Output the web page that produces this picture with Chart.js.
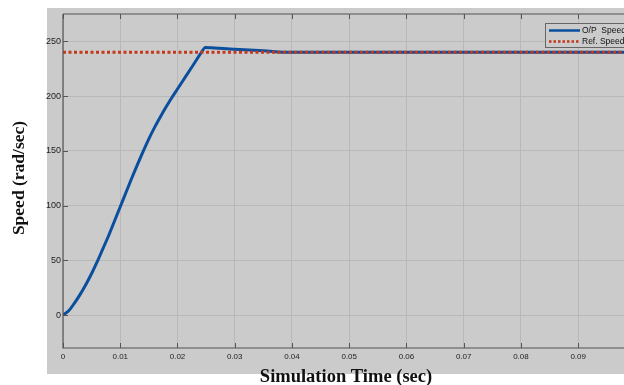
<!DOCTYPE html>
<html lang="en">
<head>
  <meta charset="UTF-8" />
  <title>Speed response</title>
  <script src="https://cdn.jsdelivr.net/npm/chart.js"></script>
  <style>
    html, body { margin: 0; padding: 0; background: #fff; overflow: hidden; }
    #wrap { width: 624px; height: 385px; position: relative; }
    canvas { display: block; }
  </style>
</head>
<body>
  <div id="wrap"><canvas id="speedChart" width="624" height="385"></canvas></div>

  <script>
    // data
    const timeSec = [0, 0.001, 0.002, 0.003, 0.004, 0.005, 0.006, 0.007, 0.008, 0.009,
                     0.010, 0.011, 0.012, 0.013, 0.014, 0.015, 0.016, 0.017, 0.018, 0.019,
                     0.020, 0.021, 0.022, 0.023, 0.024, 0.0249, 0.026, 0.028, 0.030, 0.035, 0.0397, 0.098];
    const speedOut = [0, 4, 11, 19, 28, 38, 49, 61, 73, 86,
                      99, 112, 125, 137.5, 149.5, 161, 171.5, 181, 190, 198.5,
                      206.5, 214.5, 222.5, 230.5, 238.5, 244.5, 244.1, 243.4, 242.8, 241.4, 240, 240];
    const refTime = [0, 0.098];
    const refSpeed = [240, 240];
    const xTicks = [0, 0.01, 0.02, 0.03, 0.04, 0.05, 0.06, 0.07, 0.08, 0.09];
    const yTicks = [0, 50, 100, 150, 200, 250];
    const seriesNames = ['O/P  Speed', 'Ref. Speed'];

    const BG = '#cbcbcb';
    const BLUE = '#0a4f9e';
    const RED = '#c4381c';

    // panel, inward ticks, axis titles, legend box
    const decor = {
      id: 'decor',
      beforeDraw(chart) {
        const c = chart.ctx;
        c.save();
        c.fillStyle = '#fff';
        c.fillRect(0, 0, chart.width, chart.height);
        c.fillStyle = BG;
        c.fillRect(47, 8, 577, 366);
        c.restore();
      },
      afterDraw(chart) {
        const c = chart.ctx, a = chart.chartArea;
        const xs = chart.scales.x, ys = chart.scales.y;
        c.save();
        c.strokeStyle = '#555';
        c.lineWidth = 1.2;
        c.beginPath();
        c.moveTo(a.left, a.top); c.lineTo(a.right, a.top);
        c.moveTo(a.left, a.top); c.lineTo(a.left, a.bottom);
        c.lineTo(a.right, a.bottom);
        c.stroke();
        c.lineWidth = 1;
        c.beginPath();
        xTicks.forEach(v => {
          const px = Math.round(xs.getPixelForValue(v)) + 0.5;
          c.moveTo(px, a.bottom); c.lineTo(px, a.bottom - 5);
          c.moveTo(px, a.top); c.lineTo(px, a.top + 5);
        });
        yTicks.forEach(v => {
          const py = Math.round(ys.getPixelForValue(v)) + 0.5;
          c.moveTo(a.left, py); c.lineTo(a.left + 5, py);
        });
        c.stroke();

        // axis titles
        c.fillStyle = '#111';
        c.font = 'bold 18.5px "Liberation Serif"';
        c.textAlign = 'center';
        c.textBaseline = 'middle';
        c.fillText('Simulation Time (sec)', 346, 377);
        c.translate(19, 178);
        c.rotate(-Math.PI / 2);
        c.font = 'bold 17.5px "Liberation Serif"';
        c.fillText('Speed (rad/sec)', 0, 0);
        c.restore();

        // legend
        c.save();
        c.fillStyle = BG;
        c.fillRect(545, 23, 90, 24);
        c.strokeStyle = '#666';
        c.lineWidth = 1;
        c.strokeRect(545.5, 23.5, 90, 24);
        c.lineWidth = 2.5;
        c.strokeStyle = BLUE;
        c.beginPath(); c.moveTo(549, 30.5); c.lineTo(580, 30.5); c.stroke();
        c.strokeStyle = RED;
        c.setLineDash([2.5, 2]);
        c.beginPath(); c.moveTo(549, 41.5); c.lineTo(580, 41.5); c.stroke();
        c.setLineDash([]);
        c.fillStyle = '#111';
        c.font = '8.5px "Liberation Sans"';
        c.textBaseline = 'middle';
        c.fillText(seriesNames[0], 582, 31);
        c.fillText(seriesNames[1], 582, 42);
        c.restore();
      }
    };

    new Chart(document.getElementById('speedChart'), {
      type: 'line',
      data: {
        datasets: [
          {
            label: seriesNames[0],
            data: timeSec.map((t, i) => ({ x: t, y: speedOut[i] })),
            borderColor: BLUE,
            borderWidth: 3,
            pointRadius: 0,
            cubicInterpolationMode: 'monotone',
            order: 2
          },
          {
            label: seriesNames[1],
            data: refTime.map((t, i) => ({ x: t, y: refSpeed[i] })),
            borderColor: RED,
            borderWidth: 3,
            borderDash: [3, 2.5],
            pointRadius: 0,
            order: 1
          }
        ]
      },
      options: {
        responsive: false,
        animation: false,
        devicePixelRatio: 1,
        layout: { padding: { top: 14, right: 0, left: 0, bottom: 0 } },
        plugins: { legend: { display: false }, tooltip: { enabled: false } },
        scales: {
          x: {
            type: 'linear',
            min: 0,
            max: 0.098,
            afterBuildTicks: s => { s.ticks = xTicks.map(v => ({ value: v })); },
            afterFit: s => { s.height = 37; },
            border: { display: false },
            grid: { color: '#b8b8b8', lineWidth: 1, tickLength: 0, drawTicks: false },
            ticks: {
              color: '#222',
              font: { family: 'Liberation Sans', size: 8 },
              padding: 4,
              maxRotation: 0,
              callback: v => String(v)
            }
          },
          y: {
            min: -30,
            max: 275,
            afterBuildTicks: s => { s.ticks = yTicks.map(v => ({ value: v })); },
            afterFit: s => { s.width = 63; },
            border: { display: false },
            grid: { color: '#b8b8b8', lineWidth: 1, drawTicks: false },
            ticks: {
              color: '#222',
              font: { family: 'Liberation Sans', size: 9 },
              padding: 2
            }
          }
        }
      },
      plugins: [decor]
    });
  </script>
</body>
</html>
